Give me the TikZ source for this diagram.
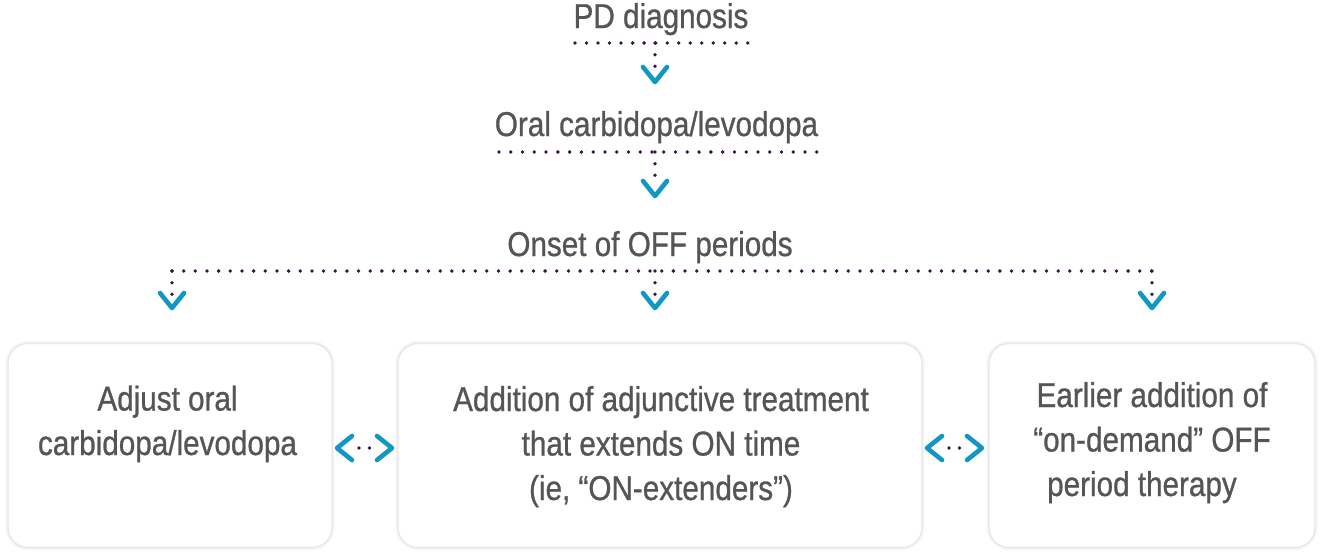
\documentclass[tikz,border=0pt]{standalone}
\usepackage{fontspec}
\setmainfont{Liberation Sans}[FakeStretch=0.86, FakeBold=0.8]
\usetikzlibrary{positioning}
\definecolor{textgray}{HTML}{545557}
\definecolor{dotpurple}{HTML}{361640}
\definecolor{chevblue}{HTML}{1297C5}
\definecolor{boxline}{HTML}{E6E6E6}
\tikzset{
    % Step labels - plain gray text
    heading/.style={anchor=base, inner sep=0pt, text=textgray, font=\fontsize{34.5}{44.5}\selectfont},
    % Text inside the option boxes (anchored on the last line)
    boxtext/.style={heading, align=center},
    % Option boxes - white with soft gray rim
    carebox/.style={draw=boxline, line width=1.2pt, fill=white, rounded corners=20pt,
        preaction={draw=black!4, line width=5pt}},
    % Dotted flow lines - dark purple dots
    dotline/.style={dotpurple, line width=3.8pt, line cap=round, dash pattern=on 0pt off 11.66pt},
    % Arrow heads - blue chevrons
    chevron/.style={chevblue, line width=4.6pt, line cap=round, line join=round},
    downchev/.pic={\draw[chevron] (-12,-15) -- (0,0) -- (12,-15);},
    leftchev/.pic={\draw[chevron] (15,-12) -- (0,0) -- (15,12);},
    rightchev/.pic={\draw[chevron] (-15,-12) -- (0,0) -- (-15,12);}
}

\begin{document}
\begin{tikzpicture}[x=1pt, y=-1pt]
    \useasboundingbox (0,0) rectangle (1323,555);

    % --- Steps ---
    \node[heading] (pd) at (661,28) {PD diagnosis};
    \node[heading] (oral) at (656.5,136) {Oral carbidopa/levodopa};
    \node[heading] (onset) at (650,256) {Onset of OFF periods};

    % --- Coordinates for the dotted lines ---
    \coordinate (pdL) at (575,43);
    \coordinate (pdR) at (748,43);
    \coordinate (pdDrop) at (655,43);
    \coordinate (oralL) at (499,152);
    \coordinate (oralR) at (817,152);
    \coordinate (oralDrop) at (655,152);
    \coordinate (onsetL) at (172,271);
    \coordinate (onsetR) at (1152,271);

    % --- Option boxes ---
    \node[carebox, minimum width=324pt, minimum height=204pt] (adjust) at (170,445.5) {};
    \node[carebox, minimum width=524pt, minimum height=204pt] (adjunct) at (660,445.5) {};
    \node[carebox, minimum width=326pt, minimum height=204pt] (ondemand) at (1152,445.5) {};

    \node[boxtext] (adjustTxt) at (167.5,455) {Adjust oral\\carbidopa/levodopa};
    \node[boxtext] (adjunctTxt) at (661,500) {Addition of adjunctive treatment\\that extends ON time\\(ie, “ON-extenders”)};
    \node[boxtext] (ondemandTxt) at (1152,496) {Earlier addition of\\“on-demand” OFF\\period therapy\hspace*{20pt}};

    % --- Flow down ---
    \draw[dotline, dash pattern=on 0pt off 11.52pt] (pdL) -- (pdR);
    \draw[dotline] (pdDrop) -- ++(0,26);
    \pic at (655,82) {downchev};

    \draw[dotline, dash pattern=on 0pt off 11.77pt] (oralL) -- (oralR);
    \draw[dotline] (oralDrop) -- ++(0,28);
    \pic at (655,196) {downchev};

    \draw[dotline] (onsetL) -- (onsetR);
    \foreach \x in {172,655,1152} {
        \draw[dotline] (\x,271) -- ++(0,24);
        \pic at (\x,308) {downchev};
    }

    % --- Links between the options ---
    \coordinate (linkA1) at (359,448);
    \coordinate (linkA2) at (370,448);
    \draw[dotline, dash pattern=on 0pt off 10.5pt] (linkA1) -- (linkA2);
    \pic at (337,448) {leftchev};
    \pic at (392,448) {rightchev};

    \coordinate (linkB1) at (949,448);
    \coordinate (linkB2) at (960,448);
    \draw[dotline, dash pattern=on 0pt off 10.5pt] (linkB1) -- (linkB2);
    \pic at (927,448) {leftchev};
    \pic at (982,448) {rightchev};
\end{tikzpicture}
\end{document}
